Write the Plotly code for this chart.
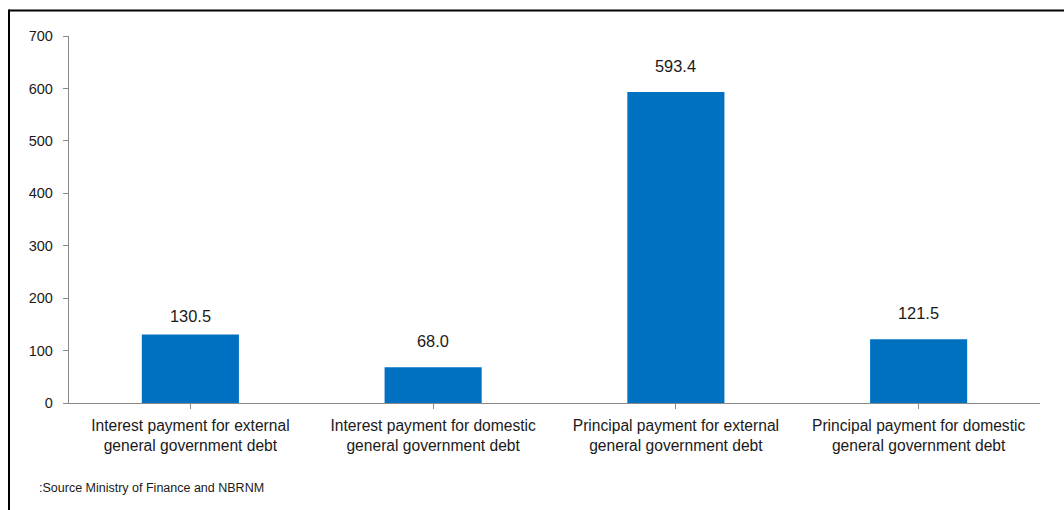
import plotly.graph_objects as go

# Debt service payments
categories = [
    "Interest payment for external<br>general government debt",
    "Interest payment for domestic<br>general government debt",
    "Principal payment for external<br>general government debt",
    "Principal payment for domestic<br>general government debt",
]
values = [130.5, 68.0, 593.4, 121.5]
value_labels = ["130.5", "68.0", "593.4", "121.5"]
y_ticks = [0, 100, 200, 300, 400, 500, 600, 700]
source_note = ":Source Ministry of Finance and NBRNM"

BAR_COLOR = "#0070C0"
AXIS_COLOR = "#898989"
TEXT_COLOR = "#1a1a1a"
FONT = "Liberation Sans, Arial, sans-serif"

# vertical gap (px) between each bar top and its value label
LABEL_GAP = [8, 15, 15, 15]

W, H = 1064, 510
M_L, M_R, M_T, M_B = 69, 24, 36, 107
plot_w = W - M_L - M_R
plot_h = H - M_T - M_B


def px_x(px):
    return (px - M_L) / plot_w


def px_y(py):
    return (H - M_B - py) / plot_h


x_idx = list(range(len(categories)))

fig = go.Figure()
fig.add_trace(go.Bar(
    x=x_idx,
    y=values,
    width=0.4,
    marker=dict(color=BAR_COLOR, line=dict(width=0)),
    hoverinfo="skip",
))

# value labels above each bar
for i, (v, t) in enumerate(zip(values, value_labels)):
    fig.add_annotation(
        x=i, y=v, text=t, showarrow=False,
        yanchor="bottom", yshift=LABEL_GAP[i],
        font=dict(family=FONT, size=16.4, color=TEXT_COLOR),
    )

# source note
fig.add_annotation(
    xref="paper", yref="paper", x=px_x(37), y=px_y(488),
    xanchor="left", yanchor="middle", showarrow=False,
    text=source_note,
    font=dict(family=FONT, size=12.5, color=TEXT_COLOR),
)

# frame around the chart (top and left edges)
fig.add_shape(type="line", xref="paper", yref="paper",
              x0=px_x(9), x1=px_x(W + 2), y0=px_y(10.5), y1=px_y(10.5),
              line=dict(color="#000000", width=2))
fig.add_shape(type="line", xref="paper", yref="paper",
              x0=px_x(9), x1=px_x(9), y0=px_y(9.5), y1=px_y(H + 2),
              line=dict(color="#000000", width=2))

fig.update_layout(
    width=W, height=H,
    margin=dict(l=M_L, r=M_R, t=M_T, b=M_B, pad=0),
    paper_bgcolor="white", plot_bgcolor="white",
    showlegend=False,
    bargap=0.6,
    font=dict(family=FONT, color=TEXT_COLOR),
)
fig.update_xaxes(
    range=[-0.5, len(categories) - 0.5],
    tickmode="array", tickvals=x_idx, ticktext=categories,
    tickson="boundaries", ticks="outside", ticklen=5, tickcolor=AXIS_COLOR,
    ticklabelstandoff=3,
    showline=True, linecolor=AXIS_COLOR, linewidth=1.3,
    showgrid=False, zeroline=False,
    tickfont=dict(family=FONT, size=15.6, color=TEXT_COLOR),
    fixedrange=True,
)
fig.update_yaxes(
    range=[0, 700],
    tickmode="array", tickvals=y_ticks, ticktext=[str(t) for t in y_ticks],
    ticks="outside", ticklen=5, tickcolor=AXIS_COLOR,
    ticklabelstandoff=7,
    showline=True, linecolor=AXIS_COLOR, linewidth=1.3,
    showgrid=False, zeroline=False,
    tickfont=dict(family=FONT, size=14.5, color=TEXT_COLOR),
    fixedrange=True,
)

fig.write_html("out.html", config={"displayModeBar": False})
